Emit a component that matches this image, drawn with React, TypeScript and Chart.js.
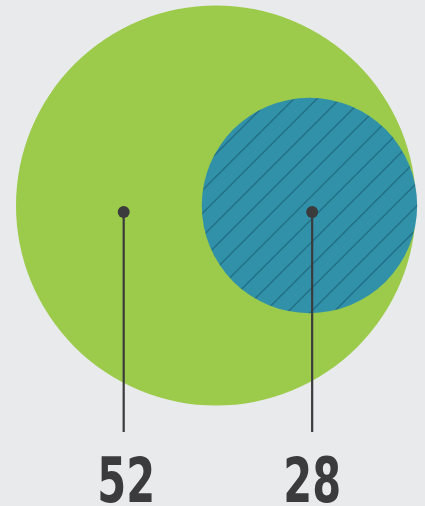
import { useEffect, useRef } from 'react';
import { Chart, registerables } from 'chart.js';

Chart.register(...registerables);

// ---- data ----
const categories = ['Total', 'Subset'];
const values = [52, 28];
const valueLabels = ['52', '28'];

// ---- style ----
const BG = '#e9eaec';
const GREEN = '#9ccb4b';
const BLUE = '#3191a9';
const HATCH = '#236f86';
const INK = '#3b3b3d';

export default function App() {
  const ref = useRef<HTMLCanvasElement>(null);

  useEffect(() => {
    document.body.style.margin = '0';
    document.body.style.background = BG;
    const canvas = ref.current!;
    const ctx = canvas.getContext('2d')!;

    // hatch pattern tile
    const P = 23;
    const phase = 1.7;
    const tile = document.createElement('canvas');
    tile.width = P;
    tile.height = P;
    const t = tile.getContext('2d')!;
    t.fillStyle = BLUE;
    t.fillRect(0, 0, P, P);
    t.strokeStyle = HATCH;
    t.lineWidth = 1.4;
    for (const c of [phase - P, phase, phase + P, phase + 2 * P]) {
      t.beginPath();
      t.moveTo(c + 5, -5);
      t.lineTo(c - P - 5, P + 5);
      t.stroke();
    }
    const pattern = ctx.createPattern(tile, 'repeat')!;

    const big = values[0];
    const small = values[1];
    const offset = big - small; // internally tangent on the right

    const unit = (chart: any) =>
      chart.scales.x.getPixelForValue(1) - chart.scales.x.getPixelForValue(0);

    const DOT_Y = -1.7;
    const STEM_END = -58.9;
    const anchors = [-offset, offset + 1];

    const annotate = {
      id: 'annotate',
      afterDatasetsDraw(chart: any) {
        const c = chart.ctx as CanvasRenderingContext2D;
        const xs = chart.scales.x;
        const ys = chart.scales.y;
        c.save();
        c.font = 'bold 64px "Liberation Sans Narrow", "DejaVu Sans Condensed", sans-serif';
        const m = c.measureText(valueLabels[0]);
        const asc = m.actualBoundingBoxAscent || 46;
        const w = (m.actualBoundingBoxLeft + m.actualBoundingBoxRight) || 54;
        const sy = 46.5 / asc;
        const sx = 52 / w;
        anchors.forEach((ax, i) => {
          const px = xs.getPixelForValue(ax);
          const py = ys.getPixelForValue(DOT_Y);
          const bottom = ys.getPixelForValue(STEM_END);
          c.strokeStyle = INK;
          c.lineWidth = 2.2;
          c.beginPath();
          c.moveTo(px, py);
          c.lineTo(px, bottom);
          c.stroke();
          c.fillStyle = INK;
          c.beginPath();
          c.arc(px, py, 6, 0, Math.PI * 2);
          c.fill();
          c.save();
          c.translate(px + (i === 0 ? 2.5 : 0), 501.5);
          c.scale(sx, sy);
          c.textAlign = 'center';
          c.textBaseline = 'alphabetic';
          c.fillText(valueLabels[i], 0, 0);
          c.restore();
        });
        c.restore();
      },
    };

    const chart = new Chart(ctx, {
      type: 'scatter',
      data: {
        datasets: [
          {
            label: categories[1],
            data: [{ x: offset + 0.3, y: 0 }],
            pointRadius: (c: any) => unit(c.chart) * small,
            pointBackgroundColor: pattern as any,
            pointBorderWidth: 0,
            pointHoverRadius: (c: any) => unit(c.chart) * small,
          },
          {
            label: categories[0],
            data: [{ x: 0, y: 0 }],
            pointRadius: (c: any) => unit(c.chart) * big,
            pointBackgroundColor: GREEN,
            pointBorderWidth: 0,
            pointHoverRadius: (c: any) => unit(c.chart) * big,
          },
        ],
      },
      options: {
        animation: false,
        responsive: false,
        events: [],
        layout: { padding: 0 },
        scales: {
          x: { type: 'linear', min: -56.16, max: 54.34, display: false },
          y: { type: 'linear', min: -78.13, max: 53.43, display: false },
        },
        plugins: {
          legend: { display: false },
          tooltip: { enabled: false },
        },
      },
      plugins: [annotate],
    });

    return () => chart.destroy();
  }, []);

  return (
    <div style={{ width: 425, height: 506, background: BG }}>
      <canvas ref={ref} width={425} height={506} style={{ display: 'block' }} />
    </div>
  );
}
